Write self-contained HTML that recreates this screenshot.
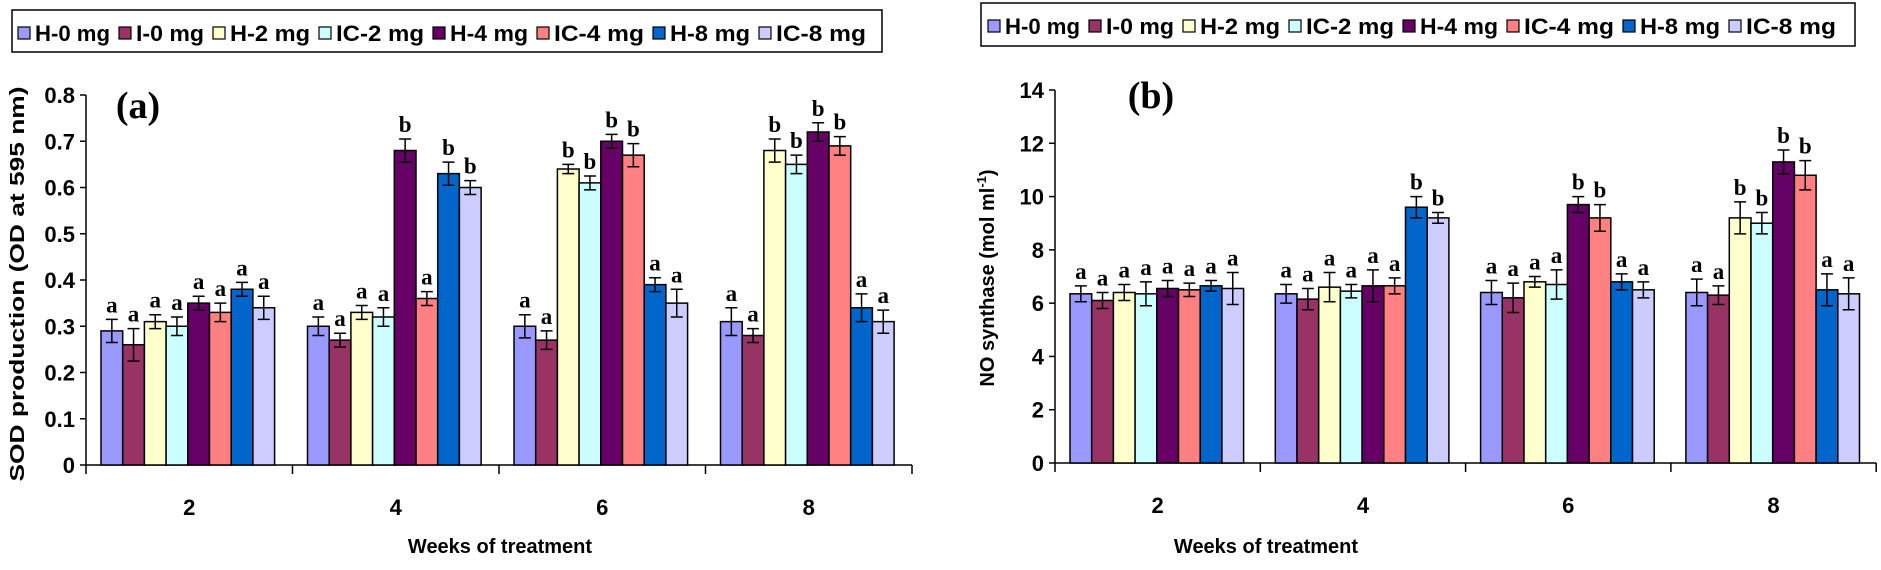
<!DOCTYPE html>
<html><head><meta charset="utf-8"><style>
html,body{margin:0;padding:0;background:#fff;}
svg{display:block;}
.t{font-family:"Liberation Sans",Arial,sans-serif;font-weight:bold;}
.s{font-family:"Liberation Serif","Times New Roman",serif;font-weight:bold;}
</style></head><body>
<svg id="c" width="1881" height="570" viewBox="0 0 1881 570" xmlns="http://www.w3.org/2000/svg">
<rect x="12" y="10" width="870" height="42" fill="#fff" stroke="#000" stroke-width="1.5"/>
<rect x="981" y="3" width="874" height="43" fill="#fff" stroke="#000" stroke-width="1.5"/>
<g id="lg"></g>
<text x="138" y="118" class="s" font-size="38" text-anchor="middle">(a)</text>
<text x="1151" y="108" class="s" font-size="38" text-anchor="middle">(b)</text>
<text class="t" font-size="20" transform="translate(24,284) rotate(-90)" text-anchor="middle" textLength="395" lengthAdjust="spacingAndGlyphs">SOD production (OD  at 595 nm)</text>
<text class="t" font-size="20" transform="translate(994,278) rotate(-90)" text-anchor="middle">NO synthase (mol ml<tspan dy="-8" font-size="13">-1</tspan><tspan dy="8">)</tspan></text>
<text x="500" y="553" class="t" font-size="20" text-anchor="middle">Weeks of treatment</text>
<text x="1266" y="553" class="t" font-size="20" text-anchor="middle">Weeks of treatment</text>
<g id="g"></g>
</svg>
<script>
var cols=["#9999FF","#993366","#FFFFCC","#CCFFFF","#660066","#FF8080","#0066CC","#CCCCFF"];
var names=["H-0 mg","I-0 mg","H-2 mg","IC-2 mg","H-4 mg","IC-4 mg","H-8 mg","IC-8 mg"];
var NS="http://www.w3.org/2000/svg";
function el(p,t,a,txt){var e=document.createElementNS(NS,t);for(var k in a)e.setAttribute(k,a[k]);if(txt!=null)e.textContent=txt;p.appendChild(e);return e;}
var g=document.getElementById("g"),lg=document.getElementById("lg");
function legend(x0,y,w){var x=x0;for(var i=0;i<8;i++){el(lg,"rect",{x:x,y:y-12,width:12,height:12,fill:cols[i],stroke:"#000","stroke-width":1.2});
el(lg,"text",{x:x+17,y:y+2,"class":"t","font-size":"22",textLength:w[i],lengthAdjust:"spacingAndGlyphs"},names[i]);x+=17+w[i]+9;}}
legend(18,39,[75,68,80,88,78,90,80,90]);
legend(988,32,[75,68,80,88,78,90,80,90]);
function chart(o){
 var ax=o.ax,y0=o.y0,ytop=o.ytop,cw=o.cw,max=o.max;
 var sc=(y0-ytop)/max;
 el(g,"line",{x1:ax,y1:ytop,x2:ax,y2:y0,stroke:"#000","stroke-width":1.5});
 el(g,"line",{x1:ax,y1:y0,x2:ax+4*cw,y2:y0,stroke:"#000","stroke-width":1.5});
 for(var i=0;i<=o.n;i++){var v=i*o.step,y=y0-v*sc;
  el(g,"line",{x1:ax-6,y1:y,x2:ax,y2:y,stroke:"#000","stroke-width":1.5});
  el(g,"text",{x:ax-11,y:y+8,"class":"t","font-size":"22","text-anchor":"end"},o.fmt(v));}
 for(var c=0;c<=4;c++){el(g,"line",{x1:ax+c*cw,y1:y0,x2:ax+c*cw,y2:y0+9,stroke:"#000","stroke-width":1.5});}
 var lab=["2","4","6","8"];
 for(var c=0;c<4;c++){
  el(g,"text",{x:ax+c*cw+cw/2,y:y0+50,"class":"t","font-size":"22","text-anchor":"middle"},lab[c]);
  for(var b=0;b<8;b++){
   var v=o.d[c][b],e=o.e[c][b],bx=ax+c*cw+15+b*21.7,bw=21.7,h=v*sc;
   el(g,"rect",{x:bx,y:y0-h,width:bw,height:h,fill:cols[b],stroke:"#000","stroke-width":1.5});
   var cx=bx+bw/2,yt=y0-(v+e)*sc,yb=y0-(v-e)*sc;
   el(g,"path",{d:"M"+cx+" "+yt+"V"+yb+"M"+(cx-6)+" "+yt+"H"+(cx+6)+"M"+(cx-6)+" "+yb+"H"+(cx+6),stroke:"#000","stroke-width":1.5,fill:"none"});
   el(g,"text",{x:cx,y:yt-7,"class":"s","font-size":"23","text-anchor":"middle"},o.l[c][b]);
  }}
}
chart({ax:86,y0:465,ytop:95,cw:206.5,max:0.8,n:8,step:0.1,fmt:function(v){return v==0?"0":v.toFixed(1)},
 d:[[.29,.26,.31,.30,.35,.33,.38,.34],[.30,.27,.33,.32,.68,.36,.63,.60],[.30,.27,.64,.61,.70,.67,.39,.35],[.31,.28,.68,.65,.72,.69,.34,.31]],
 e:[[.025,.035,.015,.02,.015,.02,.015,.025],[.02,.015,.015,.02,.025,.015,.025,.015],[.025,.02,.01,.015,.015,.025,.015,.03],[.03,.015,.025,.02,.02,.02,.03,.025]],
 l:[["a","a","a","a","a","a","a","a"],["a","a","a","a","b","a","b","b"],["a","a","b","b","b","b","a","a"],["a","a","b","b","b","b","a","a"]]});
chart({ax:1055,y0:463,ytop:90,cw:205.3,max:14,n:7,step:2,fmt:function(v){return ""+v},
 d:[[6.35,6.1,6.4,6.35,6.55,6.5,6.65,6.55],[6.35,6.15,6.6,6.45,6.65,6.65,9.6,9.2],[6.4,6.2,6.8,6.7,9.7,9.2,6.8,6.5],[6.4,6.3,9.2,9.0,11.3,10.8,6.5,6.35]],
 e:[[.3,.3,.3,.45,.3,.25,.2,.6],[.35,.4,.55,.25,.6,.3,.4,.2],[.45,.55,.2,.55,.3,.5,.3,.3],[.5,.35,.6,.4,.45,.55,.6,.6]],
 l:[["a","a","a","a","a","a","a","a"],["a","a","a","a","a","a","b","b"],["a","a","a","a","b","b","a","a"],["a","a","b","b","b","b","a","a"]]});
</script>
</body></html>
